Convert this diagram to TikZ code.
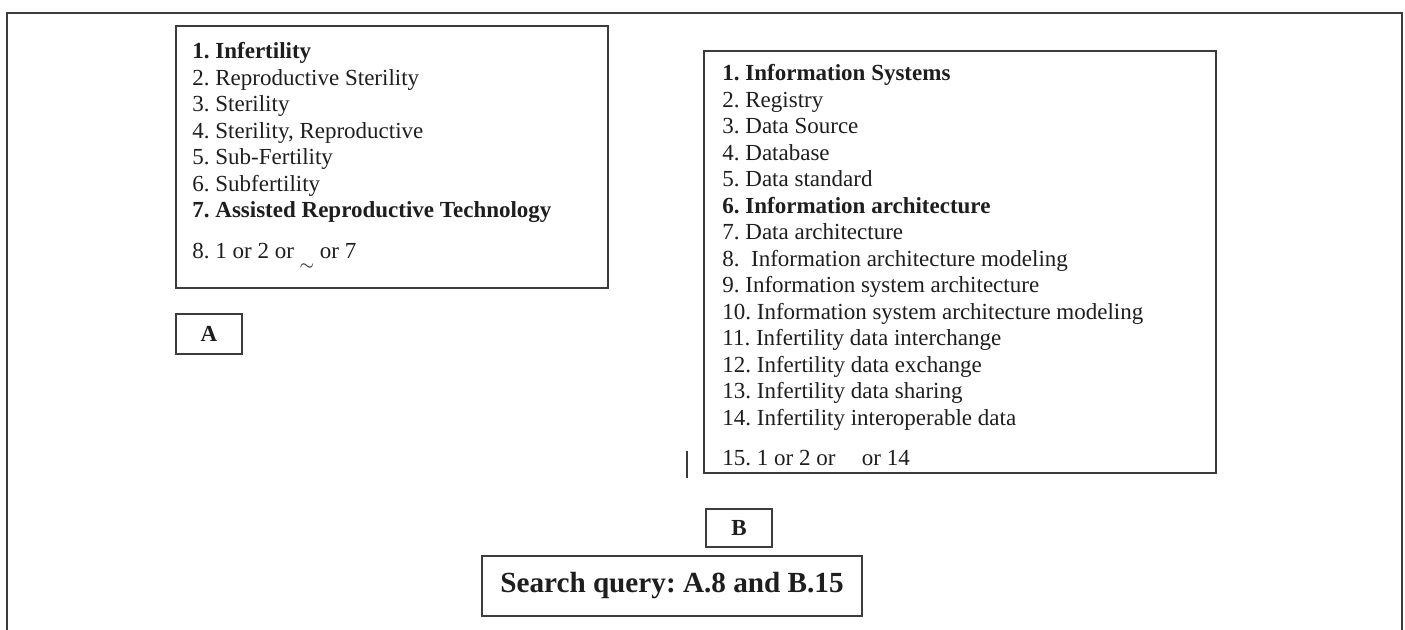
\documentclass[tikz,border=0pt]{standalone}
\usepackage{fontspec}
\setmainfont{Liberation Serif}
\definecolor{txt}{HTML}{1E1E1E}
\definecolor{edge}{HTML}{3C3C3C}
\begin{document}
\frenchspacing
\begin{tikzpicture}[x=0.5pt,y=-0.5pt,
  ln/.style={anchor=base west, inner sep=0pt, font=\fontsize{11.5}{13.25}\selectfont, text=txt},
  boxframe/.style={draw=edge, line width=1pt, fill=none},
  lbl/.style={draw=edge, line width=1pt, font=\fontsize{11.5}{13.25}\selectfont\bfseries, text=txt, inner sep=0pt}]
\useasboundingbox (0,0) rectangle (1405,630);
\fill[white] (0,0) rectangle (1405,630);
% outer frame (open at bottom)
\coordinate (fbl) at (7,630);
\coordinate (ftl) at (7,13);
\coordinate (ftr) at (1402,13);
\coordinate (fbr) at (1402,630);
\draw[edge, line width=0.75pt] (fbl) -- (ftl) -- (ftr) -- (fbr);
% left box
\coordinate (lbtl) at (176,26);
\coordinate (lbbr) at (608,288);
\draw[boxframe] (lbtl) rectangle (lbbr);
\node[ln, font=\fontsize{11.5}{13.25}\selectfont\bfseries] (l1) at (192,58.6) {1. Infertility};
\node[ln] (l2) at (192,85.1) {2. Reproductive Sterility};
\node[ln] (l3) at (192,111.6) {3. Sterility};
\node[ln] (l4) at (192,138.1) {4. Sterility, Reproductive};
\node[ln] (l5) at (192,164.6) {5. Sub-Fertility};
\node[ln] (l6) at (192,191.1) {6. Subfertility};
\node[ln, font=\fontsize{11.5}{13.25}\selectfont\bfseries] (l7) at (192,217.6) {7. Assisted Reproductive Technology};
\node[ln] (l8) at (192,258.6) {8. 1 or 2 or \raisebox{-0.5em}{\fontsize{9}{9}\selectfont$\sim$} or 7};
% A label
\node[lbl, minimum width=33pt, minimum height=20pt] (A) at (209,334) {A};
% right box
\coordinate (rbtl) at (704,51);
\coordinate (rbbr) at (1216,473);
\draw[boxframe] (rbtl) rectangle (rbbr);
\node[ln, font=\fontsize{11.5}{13.25}\selectfont\bfseries] (r1) at (722,80.6) {1. Information Systems};
\node[ln] (r2) at (722,107.1) {2. Registry};
\node[ln] (r3) at (722,133.6) {3. Data Source};
\node[ln] (r4) at (722,160.1) {4. Database};
\node[ln] (r5) at (722,186.6) {5. Data standard};
\node[ln, font=\fontsize{11.5}{13.25}\selectfont\bfseries] (r6) at (722,213.1) {6. Information architecture};
\node[ln] (r7) at (722,239.6) {7. Data architecture};
\node[ln] (r8) at (722,266.1) {8.\ \ Information architecture modeling};
\node[ln] (r9) at (722,292.6) {9. Information system architecture};
\node[ln] (r10) at (722,319.1) {10. Information system architecture modeling};
\node[ln] (r11) at (722,345.6) {11. Infertility data interchange};
\node[ln] (r12) at (722,372.1) {12. Infertility data exchange};
\node[ln] (r13) at (722,398.6) {13. Infertility data sharing};
\node[ln] (r14) at (722,425.1) {14. Infertility interoperable data};
\node[ln] (r15) at (722,465.6) {15. 1 or 2 or\hspace{0.9em} or 14};
% small vertical mark
\coordinate (vt) at (687,451);
\coordinate (vb) at (687,478);
\draw[edge, line width=0.6pt] (vt) -- (vb);
% B label
\node[lbl, minimum width=33pt, minimum height=19pt] (B) at (739,528) {B};
% search query
\node[lbl, font=\fontsize{14.6}{17}\selectfont\bfseries, minimum width=190pt, minimum height=30pt] (Q) at (672,586) {Search query: A.8 and B.15};
\end{tikzpicture}
\end{document}
